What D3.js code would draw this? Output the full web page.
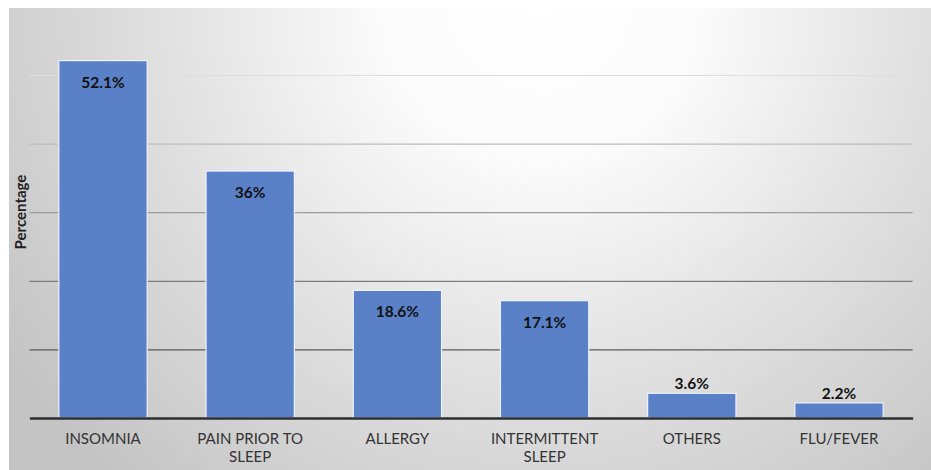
<!DOCTYPE html>
<meta charset="utf-8">
<head>
	<script src="https://d3js.org/d3.v7.min.js"></script>
</head>
<style>
	body {
		margin: 0;
		background: #fff;
		overflow: hidden;
	}
	svg {
		display: block;
	}
	svg text {
		font-family: "Lato", "Open Sans", sans-serif;
	}
	.bar {
		fill: #5a81c8;
		stroke: #eef2fa;
		stroke-width: 1.2px;
	}
	.valueLabel {
		font-weight: 700;
		font-size: 15.5px;
		fill: #111;
	}
	.catLabel {
		font-size: 15px;
		fill: #333;
	}
	.yTitle {
		font-weight: 700;
		font-size: 15px;
		fill: #222;
	}
</style>
<body>
<svg id="chart" width="931" height="470"></svg>
<script>
	// chart data
	var categories = ["INSOMNIA", "PAIN PRIOR TO SLEEP", "ALLERGY", "INTERMITTENT SLEEP", "OTHERS", "FLU/FEVER"];
	var categoryLines = [["INSOMNIA"], ["PAIN PRIOR TO", "SLEEP"], ["ALLERGY"], ["INTERMITTENT", "SLEEP"], ["OTHERS"], ["FLU/FEVER"]];
	var values = [52.1, 36, 18.6, 17.1, 3.6, 2.2];
	var valueLabels = ["52.1%", "36%", "18.6%", "17.1%", "3.6%", "2.2%"];
	var gridTicks = [0, 10, 20, 30, 40, 50];

	var width = 931,
	    height = 470,
	    margin = {top: 6.4, right: 18.4, bottom: 52, left: 29.4};

	var svg = d3.select("#chart");

	// background: soft radial gradient, white near the top middle
	var defs = svg.append("defs");
	var grad = defs.append("radialGradient")
	    .attr("id", "bg")
	    .attr("gradientUnits", "userSpaceOnUse")
	    .attr("cx", 540).attr("cy", 0).attr("r", 640);
	grad.append("stop").attr("offset", "0").attr("stop-color", "#ffffff");
	grad.append("stop").attr("offset", "0.25").attr("stop-color", "#fbfbfb");
	grad.append("stop").attr("offset", "0.6").attr("stop-color", "#e0e0e0");
	grad.append("stop").attr("offset", "1").attr("stop-color", "#c4c4c4");

	svg.append("rect")
	    .attr("x", 9).attr("y", 8)
	    .attr("width", width - 9).attr("height", height - 8)
	    .attr("fill", "url(#bg)");

	var innerWidth = width - margin.left - margin.right,
	    innerHeight = height - margin.top - margin.bottom;

	var g = svg.append("g")
	    .attr("transform", "translate(" + margin.left + "," + margin.top + ")");

	var x = d3.scaleBand()
	    .domain(categories)
	    .range([0, innerWidth])
	    .paddingInner(0.4)
	    .paddingOuter(0.2);

	var y = d3.scaleLinear()
	    .domain([0, 60])
	    .range([innerHeight, 0]);

	// gridlines get darker toward the bottom, as in the picture
	var gridColor = d3.scaleLinear()
	    .domain([50, 10])
	    .range(["#dedede", "#5a5a5a"]);

	var yGrid = d3.axisLeft(y)
	    .tickValues(gridTicks.filter(function(d) { return d > 0; }))
	    .tickSize(-innerWidth)
	    .tickFormat("");

	g.append("g")
	    .attr("class", "grid")
	    .call(yGrid)
	    .call(function(sel) {
	      sel.select(".domain").remove();
	      sel.selectAll(".tick line")
	        .attr("stroke", function(d) { return gridColor(d); })
	        .attr("stroke-width", 1.2);
	    });

	// bars
	g.selectAll(".bar")
	    .data(values)
	  .enter().append("rect")
	    .attr("class", "bar")
	    .attr("x", function(d, i) { return x(categories[i]); })
	    .attr("y", function(d) { return y(d); })
	    .attr("width", x.bandwidth())
	    .attr("height", function(d) { return innerHeight - y(d); });

	// value labels: inside the bar end for tall bars, above for short ones
	g.selectAll(".valueLabel")
	    .data(values)
	  .enter().append("text")
	    .attr("class", "valueLabel")
	    .attr("text-anchor", "middle")
	    .attr("dominant-baseline", "central")
	    .attr("x", function(d, i) { return x(categories[i]) + x.bandwidth() / 2; })
	    .attr("y", function(d) {
	      return (innerHeight - y(d)) > 40 ? y(d) + 21 : y(d) - 10;
	    })
	    .text(function(d, i) { return valueLabels[i]; });

	// baseline
	var xAxis = d3.axisBottom(x).tickSize(0).tickFormat("");
	var xg = g.append("g")
	    .attr("transform", "translate(0," + innerHeight + ")")
	    .call(xAxis);
	xg.select(".domain")
	    .attr("stroke", "#2e2e2e")
	    .attr("stroke-width", 2.6);

	// category labels, one text per line
	var labelRows = [];
	categoryLines.forEach(function(lines, i) {
	  lines.forEach(function(line, k) {
	    labelRows.push({cat: categories[i], line: line, row: k});
	  });
	});

	g.append("g")
	    .attr("class", "catLabels")
	  .selectAll("text")
	    .data(labelRows)
	  .enter().append("text")
	    .attr("class", "catLabel")
	    .attr("text-anchor", "middle")
	    .attr("x", function(d) { return x(d.cat) + x.bandwidth() / 2; })
	    .attr("y", function(d) { return innerHeight + 26 + d.row * 18; })
	    .text(function(d) { return d.line; });

	// y axis title
	svg.append("text")
	    .attr("class", "yTitle")
	    .attr("text-anchor", "middle")
	    .attr("dominant-baseline", "central")
	    .attr("transform", "translate(20,212) rotate(-90)")
	    .text("Percentage");
</script>
</body>
